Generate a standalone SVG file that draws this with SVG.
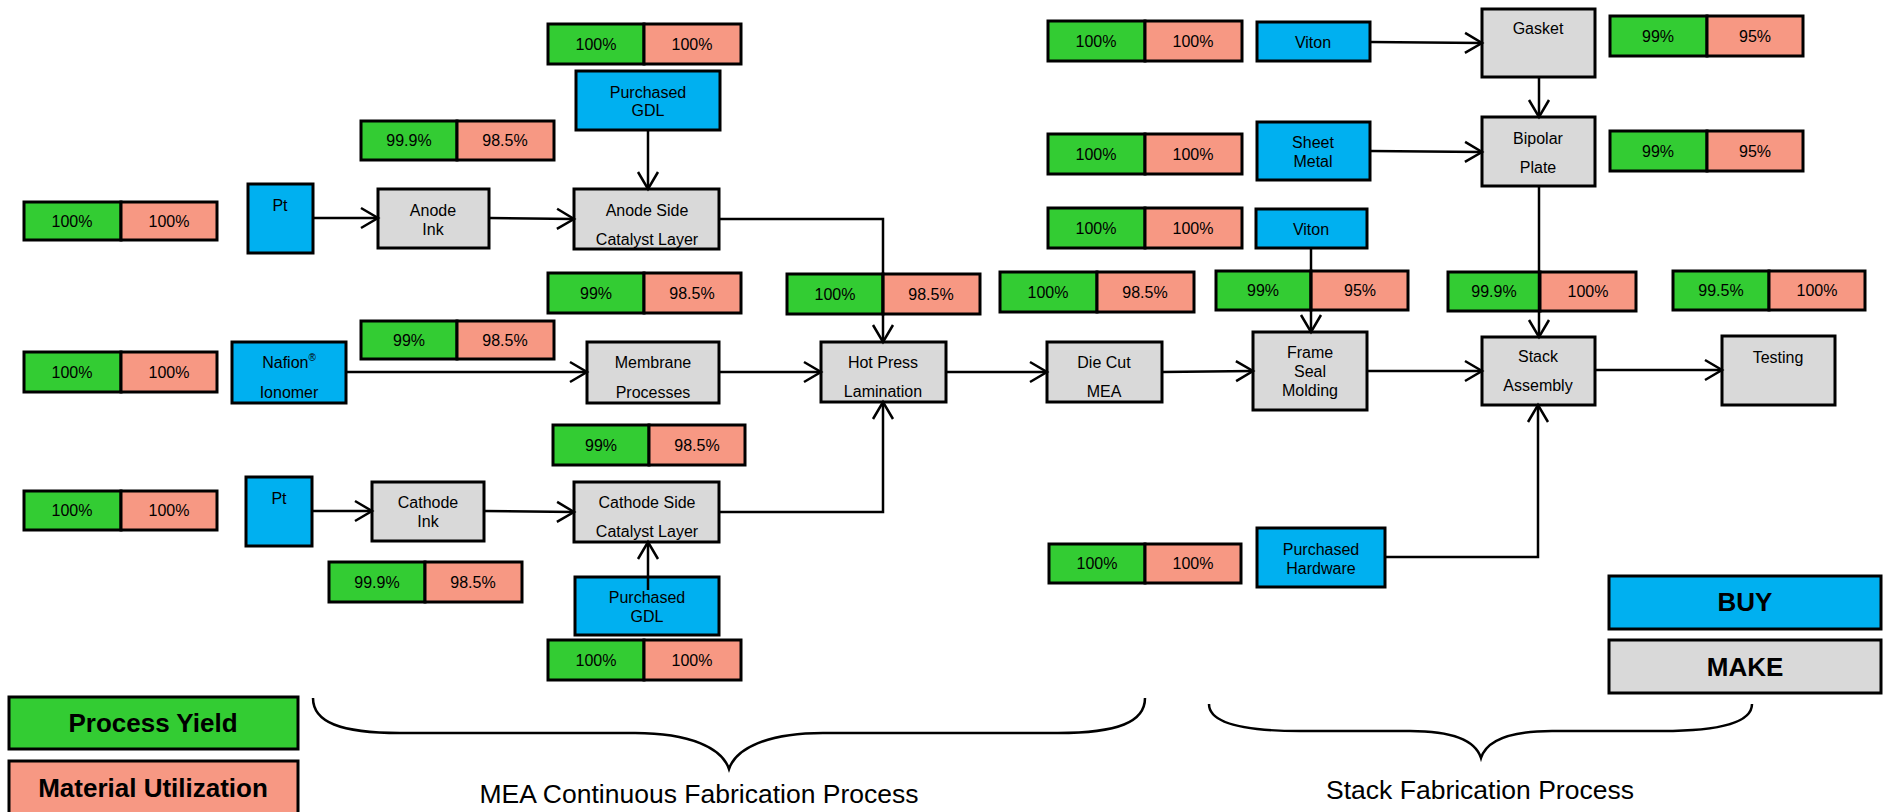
<svg xmlns="http://www.w3.org/2000/svg" width="1888" height="812" viewBox="0 0 1888 812">
<style>
text{font-family:"Liberation Sans",Arial,sans-serif;font-size:16px;fill:#000;text-anchor:middle}
.g{fill:#33CC33;stroke:#000;stroke-width:3}
.r{fill:#F79883;stroke:#000;stroke-width:3}
.b{fill:#00B0F0;stroke:#000;stroke-width:3}
.m{fill:#D9D9D9;stroke:#000;stroke-width:3}
.c{fill:none;stroke:#000;stroke-width:2.5}
.br{fill:none;stroke:#000;stroke-width:2.5}
.big{font-size:26px;font-weight:bold}
.lbl{font-size:26.5px}
</style>
<defs>
<marker id="a" markerUnits="userSpaceOnUse" markerWidth="22" markerHeight="24" refX="18" refY="11" orient="auto" overflow="visible">
<path d="M1,1 L18,11 L1,21" fill="none" stroke="#000" stroke-width="2.5"/>
</marker>
</defs>
<rect width="1888" height="812" fill="#fff"/>

<g id="yield-pairs">
<g id="p1"><rect class="g" x="24" y="202" width="97" height="38"/><rect class="r" x="121" y="202" width="96" height="38"/><text x="72" y="227">100%</text><text x="169" y="227">100%</text></g>
<g id="p2"><rect class="g" x="24" y="352" width="97" height="40"/><rect class="r" x="121" y="352" width="96" height="40"/><text x="72" y="378">100%</text><text x="169" y="378">100%</text></g>
<g id="p3"><rect class="g" x="24" y="491" width="97" height="39"/><rect class="r" x="121" y="491" width="96" height="39"/><text x="72" y="516">100%</text><text x="169" y="516">100%</text></g>
<g id="p4"><rect class="g" x="361" y="121" width="96" height="39"/><rect class="r" x="457" y="121" width="97" height="39"/><text x="409" y="146">99.9%</text><text x="505" y="146">98.5%</text></g>
<g id="p5"><rect class="g" x="361" y="321" width="96" height="38"/><rect class="r" x="457" y="321" width="97" height="38"/><text x="409" y="346">99%</text><text x="505" y="346">98.5%</text></g>
<g id="p6"><rect class="g" x="329" y="562" width="96" height="40"/><rect class="r" x="425" y="562" width="97" height="40"/><text x="377" y="588">99.9%</text><text x="473" y="588">98.5%</text></g>
<g id="p7"><rect class="g" x="548" y="24" width="96" height="40"/><rect class="r" x="644" y="24" width="97" height="40"/><text x="596" y="50">100%</text><text x="692" y="50">100%</text></g>
<g id="p8"><rect class="g" x="548" y="273" width="96" height="40"/><rect class="r" x="644" y="273" width="97" height="40"/><text x="596" y="299">99%</text><text x="692" y="299">98.5%</text></g>
<g id="p9"><rect class="g" x="553" y="425" width="96" height="40"/><rect class="r" x="649" y="425" width="96" height="40"/><text x="601" y="451">99%</text><text x="697" y="451">98.5%</text></g>
<g id="p10"><rect class="g" x="548" y="640" width="96" height="40"/><rect class="r" x="644" y="640" width="97" height="40"/><text x="596" y="666">100%</text><text x="692" y="666">100%</text></g>
<g id="p11"><rect class="g" x="787" y="274" width="96" height="40"/><rect class="r" x="883" y="274" width="97" height="40"/><text x="835" y="300">100%</text><text x="931" y="300">98.5%</text></g>
<g id="p12"><rect class="g" x="1000" y="272" width="97" height="40"/><rect class="r" x="1097" y="272" width="97" height="40"/><text x="1048" y="298">100%</text><text x="1145" y="298">98.5%</text></g>
<g id="p13"><rect class="g" x="1048" y="21" width="97" height="40"/><rect class="r" x="1145" y="21" width="97" height="40"/><text x="1096" y="47">100%</text><text x="1193" y="47">100%</text></g>
<g id="p14"><rect class="g" x="1048" y="134" width="97" height="40"/><rect class="r" x="1145" y="134" width="97" height="40"/><text x="1096" y="160">100%</text><text x="1193" y="160">100%</text></g>
<g id="p15"><rect class="g" x="1048" y="208" width="97" height="40"/><rect class="r" x="1145" y="208" width="97" height="40"/><text x="1096" y="234">100%</text><text x="1193" y="234">100%</text></g>
<g id="p16"><rect class="g" x="1049" y="544" width="96" height="39"/><rect class="r" x="1145" y="544" width="96" height="39"/><text x="1097" y="569">100%</text><text x="1193" y="569">100%</text></g>
<g id="p17"><rect class="g" x="1216" y="271" width="95" height="39"/><rect class="r" x="1311" y="271" width="97" height="39"/><text x="1263" y="296">99%</text><text x="1360" y="296">95%</text></g>
<g id="p18"><rect class="g" x="1610" y="16" width="97" height="40"/><rect class="r" x="1707" y="16" width="96" height="40"/><text x="1658" y="42">99%</text><text x="1755" y="42">95%</text></g>
<g id="p19"><rect class="g" x="1610" y="131" width="97" height="40"/><rect class="r" x="1707" y="131" width="96" height="40"/><text x="1658" y="157">99%</text><text x="1755" y="157">95%</text></g>
<g id="p20"><rect class="g" x="1448" y="272" width="92" height="39"/><rect class="r" x="1540" y="272" width="96" height="39"/><text x="1494" y="297">99.9%</text><text x="1588" y="297">100%</text></g>
<g id="p21"><rect class="g" x="1673" y="271" width="96" height="39"/><rect class="r" x="1769" y="271" width="96" height="39"/><text x="1721" y="296">99.5%</text><text x="1817" y="296">100%</text></g>
</g>

<g id="pt-anode"><rect class="b" x="248" y="184" width="65" height="69"/><text x="280" y="211">Pt</text></g>
<g id="anode-ink"><rect class="m" x="378" y="189" width="111" height="59"/><text x="433" y="216">Anode</text><text x="433" y="235">Ink</text></g>
<g id="anode-side"><rect class="m" x="574" y="189" width="145" height="60"/><text x="647" y="216">Anode Side</text><text x="647" y="245">Catalyst Layer</text></g>
<g id="gdl-top"><rect class="b" x="576" y="71" width="144" height="59"/><text x="648" y="98">Purchased</text><text x="648" y="116">GDL</text></g>
<g id="nafion"><rect class="b" x="232" y="342" width="114" height="61"/><text x="289" y="368">Nafion<tspan font-size="10" dy="-7">®</tspan></text><text x="289" y="398">Ionomer</text></g>
<g id="membrane"><rect class="m" x="587" y="342" width="132" height="61"/><text x="653" y="368">Membrane</text><text x="653" y="398">Processes</text></g>
<g id="pt-cathode"><rect class="b" x="246" y="477" width="66" height="69"/><text x="279" y="504">Pt</text></g>
<g id="cathode-ink"><rect class="m" x="372" y="482" width="112" height="59"/><text x="428" y="508">Cathode</text><text x="428" y="527">Ink</text></g>
<g id="cathode-side"><rect class="m" x="574" y="482" width="145" height="60"/><text x="647" y="508">Cathode Side</text><text x="647" y="537">Catalyst Layer</text></g>
<g id="gdl-bottom"><rect class="b" x="575" y="577" width="144" height="58"/><text x="647" y="603">Purchased</text><text x="647" y="622">GDL</text></g>
<g id="hot-press"><rect class="m" x="821" y="342" width="125" height="60"/><text x="883" y="368">Hot Press</text><text x="883" y="397">Lamination</text></g>
<g id="die-cut"><rect class="m" x="1047" y="342" width="115" height="60"/><text x="1104" y="368">Die Cut</text><text x="1104" y="397">MEA</text></g>
<g id="frame-seal"><rect class="m" x="1253" y="332" width="114" height="78"/><text x="1310" y="358">Frame</text><text x="1310" y="377">Seal</text><text x="1310" y="396">Molding</text></g>
<g id="viton-top"><rect class="b" x="1257" y="22" width="113" height="39"/><text x="1313" y="48">Viton</text></g>
<g id="sheet-metal"><rect class="b" x="1257" y="122" width="113" height="58"/><text x="1313" y="148">Sheet</text><text x="1313" y="167">Metal</text></g>
<g id="viton-2"><rect class="b" x="1256" y="209" width="111" height="39"/><text x="1311" y="235">Viton</text></g>
<g id="gasket"><rect class="m" x="1482" y="9" width="113" height="68"/><text x="1538" y="34">Gasket</text></g>
<g id="bipolar"><rect class="m" x="1482" y="117" width="113" height="69"/><text x="1538" y="144">Bipolar</text><text x="1538" y="173">Plate</text></g>
<g id="stack"><rect class="m" x="1482" y="337" width="113" height="68"/><text x="1538" y="362">Stack</text><text x="1538" y="391">Assembly</text></g>
<g id="testing"><rect class="m" x="1722" y="336" width="113" height="69"/><text x="1778" y="363">Testing</text></g>
<g id="hardware"><rect class="b" x="1257" y="528" width="128" height="59"/><text x="1321" y="555">Purchased</text><text x="1321" y="574">Hardware</text></g>

<g id="legend">
<g id="buy"><rect class="b" x="1609" y="576" width="272" height="53"/><text class="big" x="1745" y="611">BUY</text></g>
<g id="make"><rect class="m" x="1609" y="640" width="272" height="53"/><text class="big" x="1745" y="676">MAKE</text></g>
<g id="process-yield"><rect class="g" x="9" y="697" width="289" height="52"/><text class="big" x="153" y="732">Process Yield</text></g>
<g id="material-util"><rect class="r" x="9" y="761" width="289" height="53"/><text class="big" x="153" y="797">Material Utilization</text></g>
</g>

<g id="connectors">
<path class="c" d="M313,218 L378,218" marker-end="url(#a)"/>
<path class="c" d="M489,218 L574,219" marker-end="url(#a)"/>
<path class="c" d="M648,130 L648,189" marker-end="url(#a)"/>
<path class="c" d="M719,219 L883,219 L883,342" marker-end="url(#a)"/>
<path class="c" d="M346,372 L587,372" marker-end="url(#a)"/>
<path class="c" d="M719,372 L821,372" marker-end="url(#a)"/>
<path class="c" d="M312,511 L372,511" marker-end="url(#a)"/>
<path class="c" d="M484,511 L574,512" marker-end="url(#a)"/>
<path class="c" d="M648,590 L648,542" marker-end="url(#a)"/>
<path class="c" d="M719,512 L883,512 L883,402" marker-end="url(#a)"/>
<path class="c" d="M946,372 L1047,372" marker-end="url(#a)"/>
<path class="c" d="M1162,372 L1253,371" marker-end="url(#a)"/>
<path class="c" d="M1367,371 L1482,371" marker-end="url(#a)"/>
<path class="c" d="M1595,370 L1722,370" marker-end="url(#a)"/>
<path class="c" d="M1370,42 L1482,43" marker-end="url(#a)"/>
<path class="c" d="M1370,151 L1482,152" marker-end="url(#a)"/>
<path class="c" d="M1539,77 L1539,117" marker-end="url(#a)"/>
<path class="c" d="M1539,186 L1539,337" marker-end="url(#a)"/>
<path class="c" d="M1311,248 L1311,332" marker-end="url(#a)"/>
<path class="c" d="M1385,557 L1538,557 L1538,405" marker-end="url(#a)"/>
</g>

<g id="braces">
<path class="br" d="M313,698 C313,722 340,733 400,733 L635,733 C690,733 722,748 729,769 C736,748 768,733 823,733 L1058,733 C1118,733 1145,722 1145,698"/>
<path class="br" d="M1209,704 C1209,722 1240,731 1300,731 L1410,731 C1455,731 1476,742 1481,758 C1486,742 1507,731 1552,731 L1662,731 C1722,731 1752,722 1752,704"/>
<text class="lbl" x="699" y="803">MEA Continuous Fabrication Process</text>
<text class="lbl" x="1480" y="799">Stack Fabrication Process</text>
</g>
</svg>
